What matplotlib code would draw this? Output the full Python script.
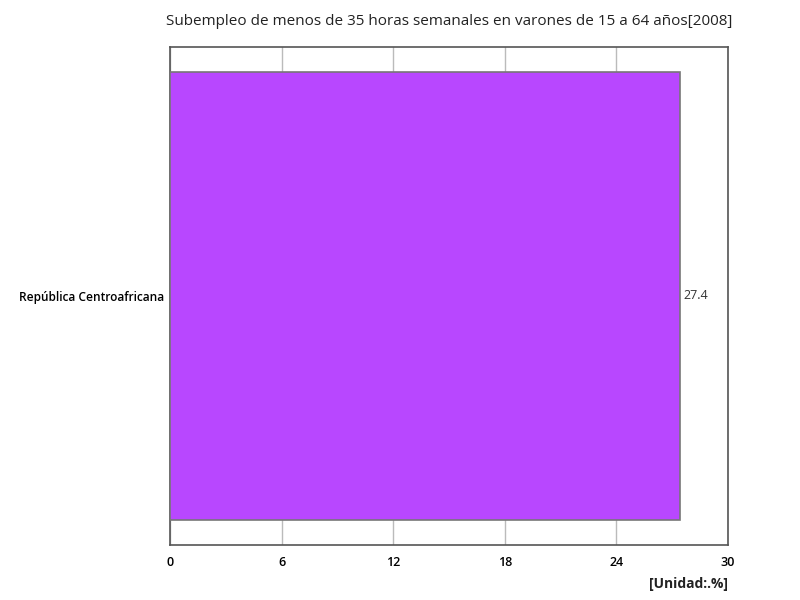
import matplotlib.pyplot as plt

plt.rcParams['font.family'] = ['Open Sans', 'DejaVu Sans']

# Data
countries = ['República Centroafricana']
values = [27.4]
xticks = [0, 6, 12, 18, 24, 30]

fig = plt.figure(figsize=(8, 6), dpi=100)
ax = fig.add_axes([0.2125, 0.0917, 0.6975, 0.83])

ax.barh(countries, values, height=0.9, color='#B847FF', edgecolor='#777777', linewidth=1.2, zorder=3)
for i, v in enumerate(values):
    ax.text(v + 0.2, i, f'{v}', va='center', ha='left', fontsize=9, color='#333333')

ax.set_xlim(0, 30)
ax.set_ylim(-0.5, 0.5)
ax.set_xticks(xticks)
ax.set_xticklabels([str(t) for t in xticks], fontsize=9, fontweight='semibold')
ax.tick_params(axis='x', length=0, pad=8)
ax.tick_params(axis='y', length=0, pad=4, labelsize=8.6)
for lbl in ax.get_yticklabels():
    lbl.set_fontweight('semibold')
ax.grid(axis='x', color='#bbbbbb', linewidth=1, zorder=0)
for s in ax.spines.values():
    s.set_color('#555555')
    s.set_linewidth(1.2)

ax.set_title('Subempleo de menos de 35 horas semanales en varones de 15 a 64 años[2008]', fontsize=11, color='#222222', pad=16)
fig.text(0.91, 0.027, '[Unidad:.%]', ha='right', va='center', fontsize=10, fontweight='bold', color='#222222')

fig.savefig('out.png', dpi=100)
